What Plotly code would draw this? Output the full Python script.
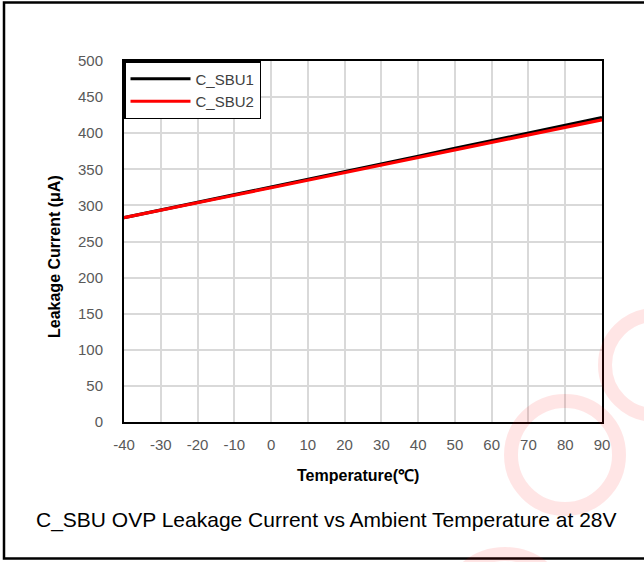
import plotly.graph_objects as go

temps = [-40, -30, -20, -10, 0, 10, 20, 30, 40, 50, 60, 70, 80, 90]
sbu1 = [283, 293.5, 304, 315, 325.5, 336, 347, 357.5, 368, 379, 389.5, 400, 411, 421.5]
sbu2 = [283, 293, 303.5, 314, 324.5, 335, 345.5, 356, 366.5, 377, 387, 397.5, 408, 418.5]
x_ticks = [-40, -30, -20, -10, 0, 10, 20, 30, 40, 50, 60, 70, 80, 90]
x_tick_labels = ["-40", "-30", "-20", "-10", "0", "10", "20", "30", "40", "50", "60", "70", "80", "90"]
y_ticks = [0, 50, 100, 150, 200, 250, 300, 350, 400, 450, 500]

W, H = 644, 562
L, R, T, B = 124, 602, 61, 422
PW, PH = R - L, B - T


def px(x):
    return (x - L) / PW


def py(y):
    return (B - y) / PH


fig = go.Figure()
fig.add_trace(go.Scatter(x=temps, y=sbu1, mode="lines", name="C_SBU1",
                         line=dict(color="#000000", width=3.2)))
fig.add_trace(go.Scatter(x=temps, y=sbu2, mode="lines", name="C_SBU2",
                         line=dict(color="#ff0000", width=3.2)))

font_main = "Liberation Sans, Arial, sans-serif"

shapes = []
# outer frame
shapes.append(dict(type="rect", xref="paper", yref="paper",
                   x0=px(4), x1=px(700), y0=py(2.5), y1=py(558.5),
                   line=dict(color="black", width=2.5), layer="above"))
# watermark rings
wm = "rgba(255,0,0,0.10)"
for cx, cy, r in [(655, 365, 50), (565, 455, 54), (505, 614, 60)]:
    shapes.append(dict(type="circle", xref="paper", yref="paper",
                       x0=px(cx - r), x1=px(cx + r), y0=py(cy + r), y1=py(cy - r),
                       line=dict(color=wm, width=14), layer="above"))

fig.update_layout(
    width=W, height=H,
    margin=dict(l=L, r=W - R, t=T, b=H - B),
    paper_bgcolor="white", plot_bgcolor="white",
    font=dict(family=font_main, size=15, color="#595959"),
    showlegend=True,
    legend=dict(x=0, y=1, xanchor="left", yanchor="top",
                bgcolor="white", bordercolor="black", borderwidth=1.5,
                font=dict(size=15, color="#404040", family=font_main),
                itemwidth=60, tracegroupgap=0),
    xaxis=dict(range=[-40, 90], tickvals=x_ticks, ticktext=x_tick_labels,
               ticks="", showgrid=True,
               gridcolor="#d9d9d9", gridwidth=1.5, showline=True, mirror=True,
               linecolor="black", linewidth=2, zeroline=False,
               ticklabelstandoff=8,
               tickfont=dict(size=15, color="#595959")),
    yaxis=dict(range=[0, 500], tickvals=y_ticks, ticks="", showgrid=True,
               gridcolor="#d9d9d9", gridwidth=1.5, showline=True, mirror=True,
               linecolor="black", linewidth=2, zeroline=False,
               ticklabelstandoff=16,
               tickfont=dict(size=15, color="#595959")),
    shapes=shapes,
    annotations=[
        dict(text="<b>Leakage Current (μA)</b>", xref="paper", yref="paper",
             x=px(54), y=py(257), textangle=-90, showarrow=False,
             font=dict(size=16, color="black", family=font_main),
             xanchor="center", yanchor="middle"),
        dict(text="<b>Temperature(℃)</b>", xref="paper", yref="paper",
             x=px(358), y=py(475), showarrow=False,
             font=dict(size=16, color="black", family=font_main),
             xanchor="center", yanchor="middle"),
        dict(text="C_SBU OVP Leakage Current vs Ambient Temperature at 28V",
             xref="paper", yref="paper", x=px(326), y=py(520), showarrow=False,
             font=dict(size=21, color="black", family=font_main),
             xanchor="center", yanchor="middle"),
    ],
)

fig.write_html("out.html")
